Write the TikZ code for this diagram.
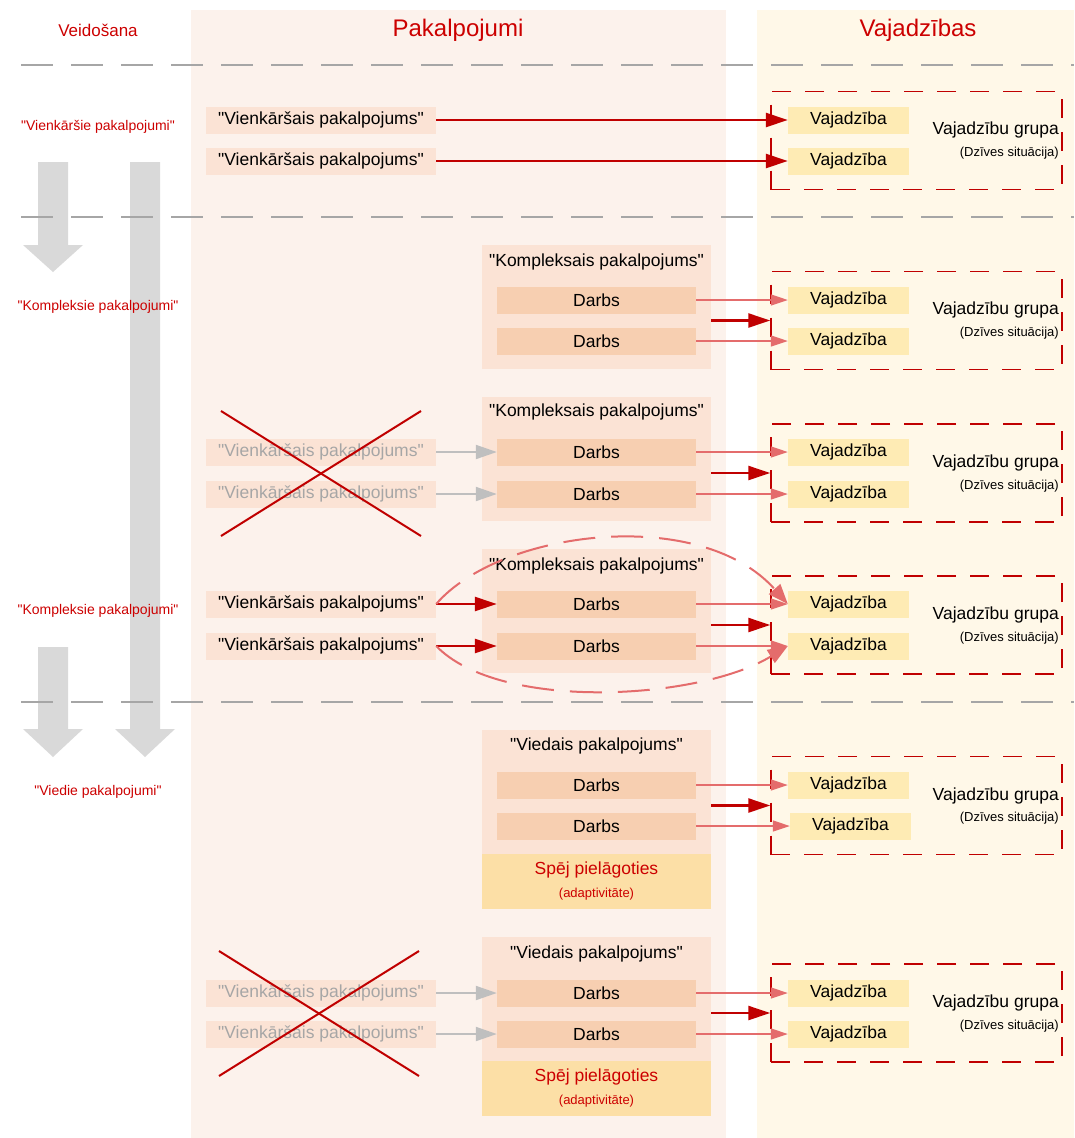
\documentclass[tikz,border=0pt]{standalone}
\usepackage{fontspec}
\setmainfont{Liberation Sans}[Ligatures=TeXOff]
\usetikzlibrary{arrows.meta}

\definecolor{panelpeach}{HTML}{FCF2EC}
\definecolor{panelyellow}{HTML}{FFF8E8}
\definecolor{peach}{HTML}{FBE3D5}
\definecolor{workpeach}{HTML}{F7CFB1}
\definecolor{needyellow}{HTML}{FEEBB4}
\definecolor{adaptyellow}{HTML}{FCDFA6}
\definecolor{darkred}{HTML}{C00000}
\definecolor{textred}{HTML}{CC0000}
\definecolor{lightred}{HTML}{E46C6C}
\definecolor{lanegray}{HTML}{A6A6A6}
\definecolor{arrgray}{HTML}{BFBFBF}
\definecolor{blockgray}{HTML}{D9D9D9}

\begin{document}
\begin{tikzpicture}[x=1pt, y=-1pt,
  every node/.style={inner sep=0pt, font=\fontsize{17.5}{20}\selectfont},
  simple/.style={fill=peach, minimum width=230pt, minimum height=27pt},
  grayed/.style={simple, text=lanegray},
  work/.style={fill=workpeach, minimum width=199pt, minimum height=27pt},
  need/.style={fill=needyellow, minimum width=121pt, minimum height=27pt},
  cplx/.style={fill=peach, minimum width=229pt, minimum height=124pt},
  adapt/.style={fill=adaptyellow, text=textred, align=center, minimum width=229pt, minimum height=55pt},
  needgroup/.style={draw=darkred, line width=1.5pt, dash pattern=on 19pt off 14pt, minimum width=291pt, minimum height=98pt},
  grouptext/.style={anchor=east},
  groupsub/.style={anchor=east, font=\fontsize{13}{15}\selectfont},
  stage/.style={text=textred, font=\fontsize{14}{17}\selectfont},
  heading/.style={text=textred, font=\fontsize{24}{28}\selectfont},
  lane/.style={draw=lanegray, line width=2pt, dash pattern=on 32pt off 18pt},
  bigarr/.style={draw=darkred, line width=2.5pt, -{Triangle[length=22pt,width=14pt]}},
  thinarr/.style={draw=lightred, line width=1.3pt, -{Triangle[length=17pt,width=11pt]}},
  grayarr/.style={draw=arrgray, line width=2pt, -{Triangle[length=21pt,width=14pt]}},
  ellarr/.style={draw=lightred, line width=2pt, dash pattern=on 32pt off 16pt, -{Triangle[length=20pt,width=15pt]}},
  cross/.style={draw=darkred, line width=2pt}]
\useasboundingbox (0,0) rectangle (1074,1138);

% columns
\fill[panelpeach] (191,10) rectangle (726,1138);
\fill[panelyellow] (757,10) rectangle (1074,1138);

% stage arrows
\fill[blockgray] (38,162) -- (68,162) -- (68,245) -- (83,245) -- (53,272) -- (23,245) -- (38,245) -- cycle;
\fill[blockgray] (130,162) -- (160,162) -- (160,729) -- (175,729) -- (145,757) -- (115,729) -- (130,729) -- cycle;
\fill[blockgray] (38,647) -- (68,647) -- (68,729) -- (83,729) -- (53,757) -- (23,729) -- (38,729) -- cycle;

\draw[lane] (21,65) -- (1074,65);
\draw[lane] (21,217) -- (1074,217);
\draw[lane] (21,702) -- (1074,702);

% headings
\node (hv) [text=textred, font=\fontsize{17}{20}\selectfont] at (98,30) {Veidošana};
\node (hp) [heading] at (458,30) {Pakalpojumi};
\node (hn) [heading] at (918,30) {Vajadzības};

\node (st1) [stage] at (98,127) {"Vienkāršie pakalpojumi"};
\node (st2) [stage] at (98,307) {"Kompleksie pakalpojumi"};
\node (st3) [stage] at (98,611) {"Kompleksie pakalpojumi"};
\node (st4) [stage] at (98,792) {"Viedie pakalpojumi"};

% 1: simple services
\node (s1a) [simple] at (321,120) {"Vienkāršais pakalpojums"};
\node (s1b) [simple] at (321,161) {"Vienkāršais pakalpojums"};
\node (g1) [needgroup] at (916.5,140.5) {};
\node (v1a) [need] at (848.5,120) {Vajadzība};
\node (v1b) [need] at (848.5,161) {Vajadzība};
\node (gt1) [grouptext] at (1059,130) {Vajadzību grupa};
\node (gs1) [groupsub] at (1059,153) {(Dzīves situācija)};
\draw[bigarr] (s1a) -- (v1a);
\draw[bigarr] (s1b) -- (v1b);

% 2: complex service
\node (k2) [cplx] at (596.5,307) {};
\node (t2) at (596.5,262) {"Kompleksais pakalpojums"};
\node (d2a) [work] at (596.5,300) {Darbs};
\node (d2b) [work] at (596.5,341) {Darbs};
\node (g2) [needgroup] at (916.5,320.5) {};
\node (v2a) [need] at (848.5,300) {Vajadzība};
\node (v2b) [need] at (848.5,341) {Vajadzība};
\node (gt2) [grouptext] at (1059,310) {Vajadzību grupa};
\node (gs2) [groupsub] at (1059,333) {(Dzīves situācija)};
\draw[thinarr] (d2a) -- (v2a);
\draw[thinarr] (d2b) -- (v2b);
\draw[bigarr] (k2.east |- g2.west) -- (g2.west);

% 3: complex service, simple ones dropped
\node (k3) [cplx] at (596.5,459) {};
\node (t3) at (596.5,412) {"Kompleksais pakalpojums"};
\node (d3a) [work] at (596.5,452) {Darbs};
\node (d3b) [work] at (596.5,494) {Darbs};
\node (s3a) [grayed] at (321,452) {"Vienkāršais pakalpojums"};
\node (s3b) [grayed] at (321,494) {"Vienkāršais pakalpojums"};
\node (g3) [needgroup] at (916.5,473) {};
\node (v3a) [need] at (848.5,452) {Vajadzība};
\node (v3b) [need] at (848.5,494) {Vajadzība};
\node (gt3) [grouptext] at (1059,463) {Vajadzību grupa};
\node (gs3) [groupsub] at (1059,486) {(Dzīves situācija)};
\draw[grayarr] (s3a) -- (d3a);
\draw[grayarr] (s3b) -- (d3b);
\draw[thinarr] (d3a) -- (v3a);
\draw[thinarr] (d3b) -- (v3b);
\draw[bigarr] (k3.east |- g3.west) -- (g3.west);
\draw[cross] (221,411) -- (421,536);
\draw[cross] (421,411) -- (221,536);

% 4: complex service built from simple ones
\node (k4) [cplx] at (596.5,611) {};
\node (t4) at (596.5,566) {"Kompleksais pakalpojums"};
\node (d4a) [work] at (596.5,604) {Darbs};
\node (d4b) [work] at (596.5,646) {Darbs};
\node (s4a) [simple] at (321,604) {"Vienkāršais pakalpojums"};
\node (s4b) [simple] at (321,646) {"Vienkāršais pakalpojums"};
\node (g4) [needgroup] at (916.5,625) {};
\node (v4a) [need] at (848.5,604) {Vajadzība};
\node (v4b) [need] at (848.5,646) {Vajadzība};
\node (gt4) [grouptext] at (1059,615) {Vajadzību grupa};
\node (gs4) [groupsub] at (1059,638) {(Dzīves situācija)};
\draw[bigarr] (s4a) -- (d4a);
\draw[bigarr] (s4b) -- (d4b);
\draw[thinarr] (d4a) -- (v4a);
\draw[thinarr] (d4b) -- (v4b);
\draw[bigarr] (k4.east |- g4.west) -- (g4.west);
\draw[ellarr] (s4a.east) .. controls (500,530) and (700,505) .. (v4a.west);
\draw[ellarr] (s4b.east) .. controls (500,712) and (700,700) .. (v4b.west);

% 5: smart service
\node (k5) [cplx] at (596.5,791.5) {};
\node (t5) at (596.5,746) {"Viedais pakalpojums"};
\node (d5a) [work] at (596.5,785) {Darbs};
\node (d5b) [work] at (596.5,826) {Darbs};
\node (a5) [adapt] at (596.5,881) {Spēj pielāgoties\\[3pt]{\fontsize{13}{15}\selectfont(adaptivitāte)}};
\node (g5) [needgroup] at (916.5,805.5) {};
\node (v5a) [need] at (848.5,785) {Vajadzība};
\node (v5b) [need] at (850.5,826) {Vajadzība};
\node (gt5) [grouptext] at (1059,796) {Vajadzību grupa};
\node (gs5) [groupsub] at (1059,818) {(Dzīves situācija)};
\draw[thinarr] (d5a) -- (v5a);
\draw[thinarr] (d5b) -- (v5b);
\draw[bigarr] (k5.east |- g5.west) -- (g5.west);

% 6: smart service, simple ones dropped
\node (k6) [cplx] at (596.5,998.5) {};
\node (t6) at (596.5,954) {"Viedais pakalpojums"};
\node (d6a) [work] at (596.5,993) {Darbs};
\node (d6b) [work] at (596.5,1034) {Darbs};
\node (a6) [adapt] at (596.5,1088) {Spēj pielāgoties\\[3pt]{\fontsize{13}{15}\selectfont(adaptivitāte)}};
\node (s6a) [grayed] at (321,993) {"Vienkāršais pakalpojums"};
\node (s6b) [grayed] at (321,1034) {"Vienkāršais pakalpojums"};
\node (g6) [needgroup] at (916.5,1013) {};
\node (v6a) [need] at (848.5,993) {Vajadzība};
\node (v6b) [need] at (848.5,1034) {Vajadzība};
\node (gt6) [grouptext] at (1059,1003) {Vajadzību grupa};
\node (gs6) [groupsub] at (1059,1026) {(Dzīves situācija)};
\draw[grayarr] (s6a) -- (d6a);
\draw[grayarr] (s6b) -- (d6b);
\draw[thinarr] (d6a) -- (v6a);
\draw[thinarr] (d6b) -- (v6b);
\draw[bigarr] (k6.east |- g6.west) -- (g6.west);
\draw[cross] (219,951) -- (419,1076);
\draw[cross] (419,951) -- (219,1076);
\end{tikzpicture}
\end{document}
